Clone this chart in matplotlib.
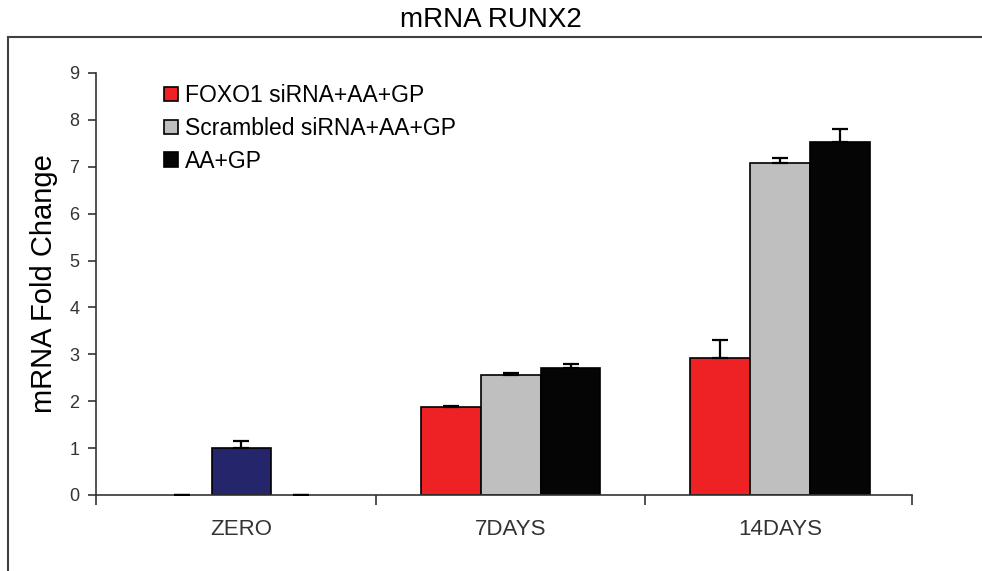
import numpy as np
import matplotlib
matplotlib.use("Agg")
import matplotlib.pyplot as plt
from matplotlib.patches import Rectangle

plt.rcParams['font.family'] = ['Liberation Sans', 'DejaVu Sans']

groups = ["ZERO", "7DAYS", "14DAYS"]
series = ["FOXO1 siRNA+AA+GP", "Scrambled siRNA+AA+GP", "AA+GP"]
foxo1 = [0.0, 1.88, 2.92]
foxo1_err = [0.0, 0.01, 0.38]
scrambled = [1.0, 2.56, 7.07]
scrambled_err = [0.15, 0.04, 0.12]
aagp = [0.0, 2.71, 7.52]
aagp_err = [0.0, 0.09, 0.28]

colors = ["#ee2224", "#bfbfbf", "#050505"]
zero_color = "#25256b"  # baseline bar at day zero

fig = plt.figure(figsize=(9.82, 5.71), dpi=100)
ax = fig.add_axes([0.0978, 0.1331, 0.8309, 0.7391])

x = np.arange(len(groups))
w = 0.222
vals = [foxo1, scrambled, aagp]
errs = [foxo1_err, scrambled_err, aagp_err]
for i, (v, e) in enumerate(zip(vals, errs)):
    fc = list(colors[i] for _ in groups)
    if i == 1:
        fc[0] = zero_color
    pos = x + (i - 1) * w
    lw = [1.2 if val > 0 else 0 for val in v]
    ax.bar(pos, v, w, color=fc, edgecolor="black", linewidth=lw, zorder=2)
    ax.errorbar(pos, v, yerr=[np.zeros(len(e)), e], fmt="none", ecolor="black",
                elinewidth=1.6, capsize=6, capthick=1.6, zorder=3)

# legend proxies
handles = [Rectangle((0, 0), 1, 1, facecolor=c, edgecolor="black", linewidth=1.2) for c in colors]
leg = ax.legend(handles, series, loc="upper left", bbox_to_anchor=(0.072, 0.995), frameon=False,
                fontsize=16.5, handlelength=0.6, handleheight=0.6, handletextpad=0.3,
                labelspacing=0.42, borderaxespad=0)

ax.set_ylim(0, 9)
ax.set_yticks(range(10))
ax.set_xlim(-0.54, 2.49)
ax.set_xticks(x)
ax.set_xticklabels(groups)
ax.set_xticks([-0.54, 0.5, 1.5, 2.49], minor=True)
ax.tick_params(axis="x", which="major", length=0, pad=17, labelsize=16, labelcolor="#333333")
ax.tick_params(axis="x", which="minor", length=7, width=1.2, direction="out", color="#333333")
ax.tick_params(axis="y", length=6, width=1.2, labelsize=13, labelcolor="#333333", color="#333333", pad=6)
for s in ["top", "right"]:
    ax.spines[s].set_visible(False)
for s in ["left", "bottom"]:
    ax.spines[s].set_color("#333333")
    ax.spines[s].set_linewidth(1.2)

ax.set_ylabel("mRNA Fold Change", fontsize=21, labelpad=8)

# outer frame like the original figure panel
fig.patches.append(Rectangle((8 / 982, -0.1), 1.2, 1 - 37 / 571 + 0.1, transform=fig.transFigure,
                             fill=False, edgecolor="#404040", linewidth=1.5))
fig.text(0.5, 1 - 20 / 571, "mRNA RUNX2", ha="center", va="center", fontsize=20)

fig.savefig("out.png", dpi=100)
